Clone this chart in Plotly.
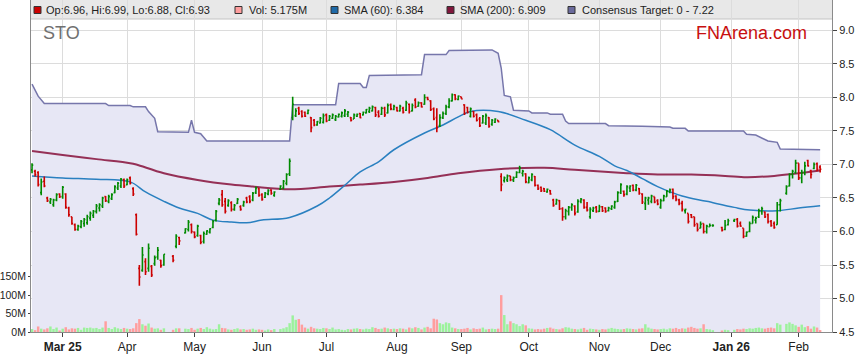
import pandas as pd
import plotly.graph_objects as go

# ---------------- data ----------------
ticker = "STO"
holidays = ["2025-04-18", "2025-04-21", "2025-04-25", "2025-06-09",
            "2025-12-25", "2025-12-26", "2026-01-01", "2026-01-26"]
trade_days = [d for d in pd.bdate_range("2025-02-17", "2026-02-11")
              if d.strftime("%Y-%m-%d") not in holidays]

opens = [
    6.92, 6.90, 6.88, 6.58, 6.75, 6.50, 6.44, 6.40, 6.47, 6.56,
    6.52, 6.56, 6.35, 6.22, 6.10, 6.03, 6.07, 6.12, 6.13, 6.20, 6.24, 6.30, 6.35, 6.38, 6.52, 6.45, 6.49, 6.58, 6.65, 6.68, 6.77,
    6.70, 6.80, 6.64, 6.25, 5.45, 5.42, 5.55, 5.45, 5.48, 5.52, 5.62, 5.57, 5.50, 5.63, 5.78, 5.91, 5.98, 6.03, 6.10,
    5.99, 5.94, 5.94, 5.85, 5.96, 5.99, 6.06, 6.17, 6.42, 6.55, 6.45, 6.39, 6.43, 6.33, 6.42, 6.37, 6.39, 6.50, 6.52, 6.47, 6.58, 6.64,
    6.55, 6.51, 6.56, 6.62, 6.54, 6.63, 6.65, 6.72, 6.86, 7.70, 7.73, 7.84, 7.79, 7.78, 7.76, 7.70, 7.66, 7.59, 7.62, 7.63,
    7.74, 7.66, 7.69, 7.67, 7.71, 7.72, 7.73, 7.75, 7.70, 7.68, 7.72, 7.76, 7.74, 7.77, 7.79, 7.80, 7.85, 7.78, 7.75, 7.84, 7.77, 7.89, 7.82,
    7.85, 7.80, 7.84, 7.81, 7.90, 7.80, 7.96, 7.87, 7.92, 7.90, 8.00, 7.95, 7.83, 7.70, 7.58, 7.70, 7.76, 7.86, 7.95, 8.04, 7.97,
    8.01, 7.89, 7.85, 7.72, 7.79, 7.74, 7.68, 7.62, 7.62, 7.70, 7.60, 7.63, 7.66, 6.82, 6.76, 6.77, 6.83, 6.77, 6.81, 6.88, 6.87, 6.86,
    6.73, 6.77, 6.82, 6.69, 6.66, 6.64, 6.59, 6.61, 6.47, 6.41, 6.46, 6.34, 6.22, 6.30, 6.36, 6.38, 6.29, 6.45, 6.47, 6.36, 6.22, 6.31, 6.36,
    6.30, 6.37, 6.35, 6.31, 6.34, 6.36, 6.45, 6.58, 6.60, 6.56, 6.65, 6.69, 6.62, 6.64, 6.56, 6.42, 6.47, 6.45, 6.52, 6.46,
    6.36, 6.46, 6.52, 6.59, 6.63, 6.53, 6.47, 6.42, 6.31, 6.27, 6.25, 6.22, 6.12, 6.05, 6.12, 6.00, 6.07, 6.09, 6.06, 6.03, 6.10,
    6.16, 6.18, 6.12, 6.05, 5.93, 6.00, 6.12, 6.17, 6.22, 6.30, 6.29, 6.25, 6.15, 6.12, 6.10, 6.40, 6.57, 6.68, 6.85, 6.88,
    7.02, 6.80, 6.88, 7.06, 6.91, 6.94, 7.01, 6.96,
]
highs = [
    7.02, 6.92, 6.90, 6.79, 6.82, 6.52, 6.50, 6.49, 6.57, 6.57,
    6.68, 6.57, 6.37, 6.22, 6.12, 6.10, 6.17, 6.20, 6.25, 6.30, 6.32, 6.41, 6.42, 6.52, 6.53, 6.55, 6.57, 6.69, 6.74, 6.80, 6.79,
    6.79, 6.82, 6.66, 6.27, 5.50, 5.77, 5.60, 5.82, 5.50, 5.64, 5.77, 5.58, 5.66, 5.65, 5.96, 5.92, 6.05, 6.17, 6.12,
    6.00, 6.10, 5.95, 6.00, 6.02, 6.05, 6.17, 6.32, 6.50, 6.62, 6.50, 6.48, 6.45, 6.41, 6.50, 6.39, 6.46, 6.52, 6.54, 6.59, 6.67, 6.65,
    6.57, 6.59, 6.63, 6.63, 6.60, 6.69, 6.77, 6.87, 7.09, 8.01, 7.84, 7.86, 7.81, 7.79, 7.82, 7.71, 7.68, 7.65, 7.71, 7.76,
    7.76, 7.74, 7.76, 7.74, 7.76, 7.79, 7.83, 7.80, 7.71, 7.76, 7.76, 7.77, 7.79, 7.83, 7.86, 7.88, 7.86, 7.81, 7.86, 7.86, 7.91, 7.91, 7.89,
    7.86, 7.89, 7.86, 7.95, 7.91, 7.91, 7.99, 7.94, 7.93, 8.05, 8.01, 7.96, 7.85, 7.84, 7.75, 7.79, 7.89, 7.99, 8.06, 8.05, 8.03,
    8.01, 7.90, 7.86, 7.85, 7.80, 7.76, 7.71, 7.74, 7.76, 7.71, 7.68, 7.69, 7.66, 6.87, 6.82, 6.85, 6.83, 6.82, 6.90, 6.98, 6.92, 6.87,
    6.82, 6.87, 6.83, 6.70, 6.67, 6.65, 6.64, 6.62, 6.49, 6.49, 6.47, 6.36, 6.34, 6.38, 6.42, 6.39, 6.48, 6.50, 6.48, 6.44, 6.36, 6.37, 6.38,
    6.40, 6.38, 6.36, 6.37, 6.39, 6.46, 6.60, 6.72, 6.61, 6.69, 6.69, 6.70, 6.71, 6.65, 6.57, 6.52, 6.52, 6.55, 6.52, 6.48,
    6.49, 6.55, 6.62, 6.64, 6.64, 6.54, 6.49, 6.46, 6.34, 6.27, 6.26, 6.22, 6.12, 6.15, 6.12, 6.10, 6.12, 6.11, 6.07, 6.17, 6.19,
    6.19, 6.20, 6.15, 6.05, 6.00, 6.15, 6.24, 6.22, 6.34, 6.37, 6.30, 6.27, 6.17, 6.15, 6.44, 6.49, 6.69, 6.87, 6.92, 7.07,
    7.02, 6.92, 7.04, 7.07, 6.92, 7.03, 7.03, 6.99,
]
lows = [
    6.87, 6.82, 6.67, 6.54, 6.66, 6.44, 6.41, 6.37, 6.45, 6.50,
    6.49, 6.34, 6.22, 6.10, 6.01, 6.01, 6.05, 6.07, 6.10, 6.16, 6.20, 6.27, 6.30, 6.35, 6.44, 6.42, 6.47, 6.57, 6.62, 6.65, 6.65,
    6.69, 6.70, 6.53, 5.94, 5.19, 5.40, 5.35, 5.40, 5.32, 5.49, 5.58, 5.46, 5.49, 5.54, 5.75, 5.80, 5.97, 6.00, 5.97,
    5.90, 5.92, 5.81, 5.82, 5.95, 5.97, 6.05, 6.15, 6.39, 6.37, 6.27, 6.37, 6.30, 6.31, 6.41, 6.31, 6.37, 6.42, 6.42, 6.45, 6.56, 6.52,
    6.46, 6.50, 6.54, 6.55, 6.52, 6.62, 6.63, 6.69, 6.83, 7.66, 7.71, 7.74, 7.70, 7.71, 7.75, 7.48, 7.57, 7.58, 7.61, 7.61,
    7.63, 7.65, 7.68, 7.65, 7.70, 7.70, 7.71, 7.71, 7.64, 7.68, 7.71, 7.69, 7.73, 7.76, 7.77, 7.79, 7.71, 7.70, 7.74, 7.71, 7.76, 7.81, 7.81,
    7.79, 7.79, 7.76, 7.80, 7.76, 7.79, 7.84, 7.86, 7.85, 7.89, 7.96, 7.80, 7.66, 7.48, 7.56, 7.68, 7.74, 7.84, 7.94, 7.96, 7.96,
    7.98, 7.74, 7.76, 7.70, 7.70, 7.64, 7.56, 7.61, 7.59, 7.55, 7.58, 7.62, 7.63, 6.60, 6.73, 6.74, 6.75, 6.74, 6.80, 6.87, 6.82, 6.72,
    6.72, 6.75, 6.67, 6.62, 6.59, 6.59, 6.58, 6.55, 6.37, 6.40, 6.32, 6.16, 6.18, 6.24, 6.31, 6.24, 6.28, 6.42, 6.34, 6.30, 6.19, 6.29, 6.28,
    6.29, 6.29, 6.28, 6.30, 6.32, 6.34, 6.44, 6.56, 6.52, 6.54, 6.59, 6.60, 6.60, 6.55, 6.41, 6.32, 6.40, 6.42, 6.42, 6.39,
    6.34, 6.45, 6.52, 6.57, 6.48, 6.45, 6.39, 6.30, 6.27, 6.12, 6.20, 6.07, 6.00, 6.05, 5.97, 5.97, 6.07, 6.07, 6.00, 6.02, 6.09,
    6.14, 6.06, 6.07, 5.90, 5.92, 5.99, 6.12, 6.12, 6.20, 6.25, 6.20, 6.12, 6.07, 6.04, 6.10, 6.30, 6.55, 6.67, 6.79, 6.86,
    6.77, 6.72, 6.84, 6.97, 6.79, 6.93, 6.90, 6.88,
]
closes = [
    6.99, 6.85, 6.70, 6.74, 6.68, 6.46, 6.48, 6.47, 6.55, 6.52,
    6.66, 6.36, 6.25, 6.12, 6.03, 6.08, 6.15, 6.18, 6.22, 6.27, 6.30, 6.38, 6.40, 6.50, 6.46, 6.52, 6.55, 6.67, 6.72, 6.78, 6.68,
    6.77, 6.72, 6.56, 5.96, 5.32, 5.65, 5.40, 5.75, 5.35, 5.61, 5.72, 5.49, 5.66, 5.57, 5.93, 5.86, 6.04, 6.14, 6.00,
    5.92, 6.08, 5.84, 5.97, 6.01, 6.04, 6.15, 6.30, 6.47, 6.40, 6.30, 6.46, 6.33, 6.39, 6.48, 6.33, 6.44, 6.44, 6.45, 6.57, 6.65, 6.54,
    6.48, 6.57, 6.61, 6.57, 6.59, 6.68, 6.75, 6.85, 7.05, 7.90, 7.80, 7.76, 7.72, 7.72, 7.81, 7.55, 7.59, 7.64, 7.69, 7.73,
    7.65, 7.72, 7.74, 7.72, 7.75, 7.77, 7.80, 7.78, 7.66, 7.74, 7.75, 7.70, 7.78, 7.82, 7.84, 7.86, 7.74, 7.72, 7.84, 7.74, 7.88, 7.83, 7.87,
    7.80, 7.87, 7.78, 7.92, 7.79, 7.88, 7.86, 7.92, 7.86, 8.00, 7.97, 7.82, 7.68, 7.55, 7.70, 7.76, 7.86, 7.95, 8.04, 7.98, 8.02,
    7.98, 7.76, 7.78, 7.83, 7.72, 7.66, 7.58, 7.72, 7.73, 7.57, 7.66, 7.68, 7.64, 6.70, 6.80, 6.83, 6.77, 6.80, 6.88, 6.95, 6.90, 6.74,
    6.80, 6.85, 6.69, 6.64, 6.61, 6.60, 6.63, 6.56, 6.39, 6.47, 6.34, 6.22, 6.31, 6.36, 6.40, 6.27, 6.45, 6.48, 6.36, 6.32, 6.33, 6.35, 6.30,
    6.37, 6.31, 6.30, 6.35, 6.38, 6.44, 6.58, 6.70, 6.55, 6.67, 6.68, 6.62, 6.69, 6.57, 6.44, 6.50, 6.50, 6.53, 6.44, 6.41,
    6.46, 6.53, 6.60, 6.62, 6.52, 6.48, 6.42, 6.33, 6.33, 6.15, 6.21, 6.10, 6.03, 6.11, 6.00, 6.08, 6.09, 6.09, 6.02, 6.09, 6.16,
    6.18, 6.08, 6.08, 5.93, 5.99, 6.12, 6.21, 6.20, 6.31, 6.34, 6.22, 6.15, 6.09, 6.06, 6.40, 6.46, 6.67, 6.85, 6.90, 7.02,
    6.80, 6.88, 6.98, 6.98, 6.85, 7.00, 6.93, 6.93,
]
volumes_m = [
    8, 5, 15, 9, 7, 10, 15, 8, 12, 4,
    9, 13, 7, 10, 9, 11, 6, 12, 11, 12, 10, 11, 8, 12, 29, 11, 8, 13, 10, 8, 11,
    9, 8, 10, 24, 35, 21, 17, 23, 12, 9, 10, 6, 10, 6, 10, 10, 9, 8, 11,
    6, 9, 11, 8, 13, 9, 7, 8, 21, 11, 10, 7, 6, 8, 10, 7, 8, 6, 7, 9, 6, 7,
    6, 4, 7, 5, 8, 8, 10, 13, 24, 45, 33, 35, 20, 12, 9, 14, 10, 9, 8, 11,
    10, 8, 12, 7, 8, 6, 5, 8, 7, 9, 10, 8, 7, 9, 8, 13, 11, 8, 9, 12, 10, 8, 9,
    8, 10, 9, 7, 12, 10, 13, 11, 7, 12, 14, 10, 36, 34, 24, 21, 26, 24, 12, 10, 8,
    8, 9, 11, 7, 10, 8, 9, 12, 7, 8, 9, 8, 9, 100, 46, 21, 29, 24, 21, 16, 21, 18,
    10, 9, 7, 8, 7, 9, 11, 12, 9, 8, 7, 10, 13, 12, 9, 8, 7, 9, 11, 6, 9, 8, 7,
    6, 8, 7, 9, 11, 9, 8, 7, 8, 10, 9, 8, 7, 9, 10, 21, 12, 9, 8, 7,
    8, 9, 7, 10, 9, 11, 8, 10, 9, 12, 14, 11, 9, 10, 21, 8, 7, 5, 4, 6, 5,
    6, 8, 7, 9, 8, 10, 9, 11, 12, 10, 9, 11, 12, 10, 24, 20, 22, 26, 22, 18,
    14, 20, 13, 16, 9, 15, 12, 5.175,
]

sma60_dates = ["2025-02-17", "2025-03-03", "2025-03-18", "2025-04-02", "2025-04-09", "2025-04-17",
               "2025-04-24", "2025-05-02", "2025-05-09", "2025-05-19", "2025-05-26", "2025-06-02",
               "2025-06-13", "2025-06-26", "2025-07-02", "2025-07-09", "2025-07-16", "2025-07-24",
               "2025-07-31", "2025-08-14", "2025-08-22", "2025-08-29", "2025-09-04", "2025-09-17",
               "2025-09-30", "2025-10-10", "2025-10-22", "2025-11-03", "2025-11-10", "2025-11-14",
               "2025-11-21", "2025-11-28", "2025-12-10", "2025-12-22", "2026-01-02", "2026-01-09",
               "2026-01-22", "2026-02-02", "2026-02-11"]
sma60_vals = [6.83, 6.80, 6.78, 6.74, 6.59, 6.45, 6.35, 6.27, 6.17, 6.14, 6.13, 6.17, 6.21, 6.38,
              6.50, 6.69, 6.89, 7.04, 7.22, 7.47, 7.59, 7.71, 7.79, 7.79, 7.66, 7.52, 7.29, 7.12,
              6.98, 6.91, 6.79, 6.67, 6.53, 6.45, 6.36, 6.32, 6.31, 6.35, 6.384]

sma200_dates = ["2025-02-17", "2025-03-03", "2025-03-18", "2025-04-02", "2025-04-04", "2025-04-17",
                "2025-05-02", "2025-05-19", "2025-05-28", "2025-06-13", "2025-07-02", "2025-07-16",
                "2025-07-31", "2025-08-15", "2025-08-29", "2025-09-17", "2025-10-08", "2025-10-22",
                "2025-11-14", "2025-11-28", "2025-12-15", "2025-12-30", "2026-01-08", "2026-01-21",
                "2026-02-11"]
sma200_vals = [7.20, 7.14, 7.08, 7.02, 7.00, 6.87, 6.77, 6.70, 6.67, 6.63, 6.67, 6.70, 6.74, 6.80,
               6.87, 6.93, 6.95, 6.92, 6.87, 6.85, 6.85, 6.83, 6.81, 6.83, 6.909]

target_dates = ["2025-02-17", "2025-02-18", "2025-02-19", "2025-02-21", "2025-03-21", "2025-03-24",
                "2025-04-02", "2025-04-03", "2025-04-09", "2025-04-10", "2025-04-14", "2025-04-15",
                "2025-04-29", "2025-04-30", "2025-05-01", "2025-05-05", "2025-05-07", "2025-06-13",
                "2025-06-16", "2025-07-04", "2025-07-07", "2025-07-16", "2025-07-17", "2025-07-18",
                "2025-07-21", "2025-08-13", "2025-08-14", "2025-08-25", "2025-08-26", "2025-09-15",
                "2025-09-17", "2025-09-18", "2025-09-19", "2025-09-23", "2025-09-24", "2025-10-01",
                "2025-10-02", "2025-10-09", "2025-10-10", "2025-10-16", "2025-10-17", "2025-10-20",
                "2025-11-05", "2025-11-06", "2025-11-20", "2025-11-21", "2025-12-04", "2025-12-05",
                "2025-12-11", "2025-12-12", "2026-01-07", "2026-01-08", "2026-01-13", "2026-01-19",
                "2026-01-22", "2026-01-23", "2026-02-11"]
target_vals = [8.20, 8.12, 8.02, 7.91, 7.91, 7.88, 7.88, 7.86, 7.86, 7.79, 7.69, 7.49, 7.48, 7.66,
               7.48, 7.46, 7.35, 7.35, 7.89, 7.89, 8.21, 8.21, 8.15, 8.15, 8.33, 8.34, 8.64, 8.64,
               8.70, 8.71, 8.66, 8.44, 8.03, 8.01, 7.81, 7.80, 7.77, 7.77, 7.75, 7.75, 7.65, 7.61,
               7.61, 7.58, 7.58, 7.57, 7.56, 7.54, 7.54, 7.50, 7.50, 7.45, 7.44, 7.35, 7.33, 7.23,
               7.22]

price_ticks = [4.5, 5.0, 5.5, 6.0, 6.5, 7.0, 7.5, 8.0, 8.5, 9.0]
vol_ticks = [0, 50, 100, 150]
month_ticks = ["2025-03-03", "2025-04-01", "2025-05-01", "2025-06-02", "2025-07-01", "2025-08-01",
               "2025-09-01", "2025-10-01", "2025-11-03", "2025-12-01", "2026-01-01", "2026-02-02"]
month_labels = ["<b>Mar 25</b>", "Apr", "May", "Jun", "Jul", "Aug", "Sep", "Oct", "Nov", "Dec",
                "<b>Jan 26</b>", "Feb"]

assert len(opens) == len(highs) == len(lows) == len(closes) == len(volumes_m) == len(trade_days)

# each daily mark is placed at midday of its session so OHLC ticks never fall in a weekend break
MIDDAY = pd.Timedelta(hours=12)


def at_midday(days):
    return [pd.Timestamp(d) + MIDDAY for d in days]


# ---------------- styling ----------------
FONT = "Liberation Sans, Arial, sans-serif"
UP, DOWN = "#008a00", "#cc0000"
VOL_UP, VOL_DOWN = "#9cf29c", "#ff9e9e"
TARGET_LINE, TARGET_FILL = "#7676ab", "#e7e7f5"
SMA60_C, SMA200_C = "#2a80c0", "#8c1c45"
W, H = 859, 363
L, R, T, B = 31, 27, 0, 31
PW, PH = W - L - R, H - T - B
PRICE_RANGE = [4.5, 9.455]


def pxx(p):
    return (p - L) / PW


def pxy(p):
    return (H - B - p) / PH


fig = go.Figure()

# base subplot: consensus-target area + moving averages
fig.add_trace(go.Scatter(x=at_midday(target_dates), y=target_vals, mode="lines", fill="tozeroy",
                         fillcolor=TARGET_FILL, line=dict(color=TARGET_LINE, width=1.5),
                         yaxis="y", hoverinfo="skip"))
fig.add_trace(go.Scatter(x=at_midday(sma200_dates), y=sma200_vals, mode="lines", line_shape="spline",
                         line=dict(color=SMA200_C, width=2), opacity=0.9, yaxis="y"))
fig.add_trace(go.Scatter(x=at_midday(sma60_dates), y=sma60_vals, mode="lines", line_shape="spline",
                         line=dict(color=SMA60_C, width=1.5), yaxis="y"))
# overlay: volume bars
vol_colors = [VOL_UP if c >= o else VOL_DOWN for o, c in zip(opens, closes)]
fig.add_trace(go.Bar(x=at_midday(trade_days), y=volumes_m,
                     marker=dict(color=vol_colors, line=dict(width=0)), yaxis="y2"))
# overlay: OHLC bars (drawn above the filled area)
fig.add_trace(go.Ohlc(x=at_midday(trade_days), open=opens, high=highs, low=lows, close=closes,
                      increasing=dict(line=dict(color=UP, width=1.6)),
                      decreasing=dict(line=dict(color=DOWN, width=1.6)),
                      tickwidth=0.4, yaxis="y3"))

shapes = [dict(type="rect", xref="paper", yref="paper", x0=0, x1=1, y0=pxy(19), y1=1,
               fillcolor="#e8e8e8", line=dict(width=0), layer="below"),
          dict(type="line", xref="paper", yref="paper", x0=0, x1=1, y0=pxy(19), y1=pxy(19),
               line=dict(color="#c4c4c4", width=1), layer="below")]
legend_items = [
    (34, DOWN, f"Op:{opens[-1]:.2f}, Hi:{highs[-1]:.2f}, Lo:{lows[-1]:.2f}, Cl:{closes[-1]:.2f}", 43.5),
    (235, VOL_DOWN, f"Vol: {volumes_m[-1]:.3f}M", 246.5),
    (331, "#1f6aa8", f"SMA (60): {sma60_vals[-1]:.3f}", 341.5),
    (447, "#80163c", f"SMA (200): {sma200_vals[-1]:.3f}", 457.5),
    (568, "#6a6a9c", f"Consensus Target: 0 - {target_vals[-1]:.2f}", 579.5),
]
annotations = []
for sx, col, txt, tx in legend_items:
    shapes.append(dict(type="rect", xref="paper", yref="paper", x0=pxx(sx), x1=pxx(sx + 7),
                       y0=pxy(13.5), y1=pxy(6.5), fillcolor=col,
                       line=dict(color="#333333", width=1), layer="above"))
    annotations.append(dict(xref="paper", yref="paper", x=pxx(tx), y=pxy(10), text=txt,
                            showarrow=False, xanchor="left", yanchor="middle",
                            font=dict(family=FONT, size=11, color="#222222")))
annotations.append(dict(xref="paper", yref="paper", x=pxx(41), y=pxy(33), text=ticker,
                        showarrow=False, xanchor="left", yanchor="middle",
                        font=dict(family=FONT, size=18, color="#707070")))
annotations.append(dict(xref="paper", yref="paper", x=pxx(809), y=pxy(33), text="FNArena.com",
                        showarrow=False, xanchor="right", yanchor="middle",
                        font=dict(family=FONT, size=18, color="#c81010")))

fig.update_layout(
    width=W, height=H, margin=dict(l=L, r=R, t=T, b=B, pad=0, autoexpand=False),
    paper_bgcolor="white", plot_bgcolor="white", showlegend=False,
    font=dict(family=FONT, size=12, color="#222222"),
    shapes=shapes, annotations=annotations, bargap=0.2,
    xaxis=dict(type="date", range=["2025-02-17 04:00", "2026-02-17 08:48"],
               rangebreaks=[dict(bounds=["sat", "mon"])], rangeslider=dict(visible=False),
               tickvals=at_midday(month_ticks), ticktext=month_labels, tickfont=dict(size=12),
               showgrid=True, gridcolor="#dcdcdc", gridwidth=1, automargin=False,
               ticks="outside", ticklen=4, tickcolor="#444444",
               showline=True, linecolor="#8a8a8a", linewidth=1, zeroline=False),
    yaxis=dict(side="right", range=PRICE_RANGE, tickvals=price_ticks,
               ticktext=[f"{v:.1f}" for v in price_ticks], tickfont=dict(size=11),
               showgrid=True, gridcolor="#dcdcdc", gridwidth=1, automargin=False,
               ticks="outside", ticklen=4, tickcolor="#444444",
               showline=True, linecolor="#8a8a8a", linewidth=1, zeroline=False),
    yaxis2=dict(overlaying="y", side="left", range=[0, 900], tickvals=vol_ticks,
                ticktext=[f"{v}M" for v in vol_ticks], tickfont=dict(size=10.5),
                showgrid=False, ticks="outside", ticklen=2, tickcolor="#444444", automargin=False,
                showline=True, linecolor="#8a8a8a", linewidth=1, zeroline=False),
    yaxis3=dict(overlaying="y", side="right", range=PRICE_RANGE, visible=False,
                showgrid=False, zeroline=False, automargin=False),
)

fig.write_html("out.html", config={"displayModeBar": False, "staticPlot": True},
               post_script="document.body.style.margin='0';")
